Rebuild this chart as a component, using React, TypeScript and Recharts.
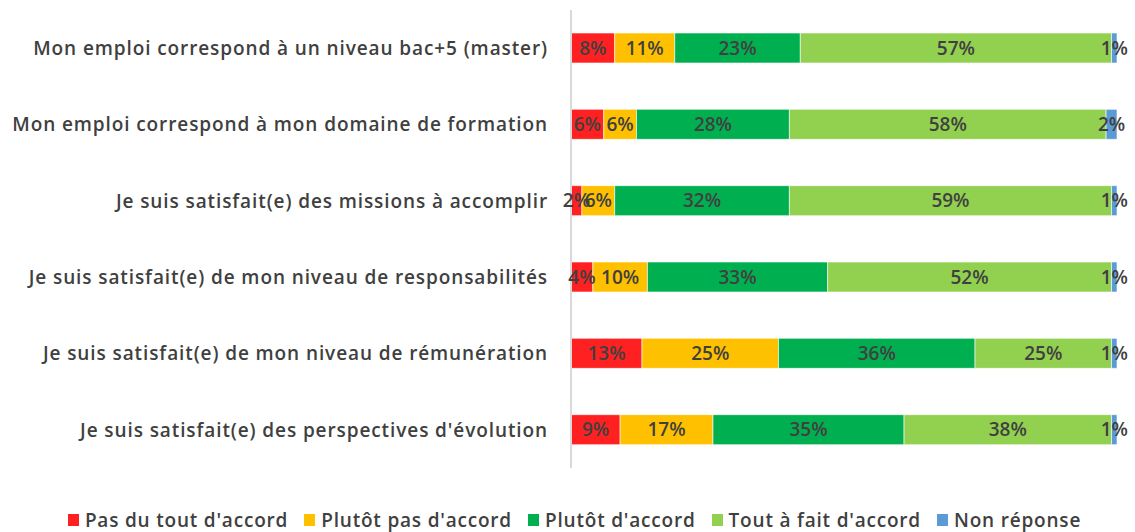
import React from "react";
import {
  BarChart,
  Bar,
  XAxis,
  YAxis,
  Legend,
  LabelList,
} from "recharts";

const questions = [
  "Mon emploi correspond à un niveau bac+5 (master)",
  "Mon emploi correspond à mon domaine de formation",
  "Je suis satisfait(e) des missions à accomplir",
  "Je suis satisfait(e) de mon niveau de responsabilités",
  "Je suis satisfait(e) de mon niveau de rémunération",
  "Je suis satisfait(e) des perspectives d'évolution",
];

const pasDuTout = [8, 6, 2, 4, 13, 9];
const plutotPas = [11, 6, 6, 10, 25, 17];
const plutot = [23, 28, 32, 33, 36, 35];
const toutAFait = [57, 58, 59, 52, 25, 38];
const nonReponse = [1, 2, 1, 1, 1, 1];

const series = [
  { key: "pasDuTout", name: "Pas du tout d'accord", color: "#FF2121" },
  { key: "plutotPas", name: "Plutôt pas d'accord", color: "#FFC000" },
  { key: "plutot", name: "Plutôt d'accord", color: "#00B050" },
  { key: "toutAFait", name: "Tout à fait d'accord", color: "#92D050" },
  { key: "nonReponse", name: "Non réponse", color: "#5B9BD5" },
];

const data = questions.map((q, i) => ({
  name: q,
  pasDuTout: pasDuTout[i],
  plutotPas: plutotPas[i],
  plutot: plutot[i],
  toutAFait: toutAFait[i],
  nonReponse: nonReponse[i],
}));

const FONT = "'Open Sans', sans-serif";

function LegendBox() {
  return (
    <div
      style={{
        display: "flex",
        justifyContent: "center",
        height: 64,
        paddingTop: 40,
        paddingLeft: 48,
        boxSizing: "border-box",
        fontFamily: FONT,
        fontWeight: 600,
        fontSize: 19,
        letterSpacing: 0.8,
        color: "#404040",
        lineHeight: "22px",
      }}
    >
      {series.map((s) => (
        <div key={s.key} style={{ display: "flex", alignItems: "center", marginRight: 16 }}>
          <span
            style={{
              display: "inline-block",
              width: 11,
              height: 12,
              background: s.color,
              marginRight: 6,
            }}
          />
          <span>{s.name}</span>
        </div>
      ))}
    </div>
  );
}

export default function App() {
  return (
    <div style={{ position: "absolute", left: 0, top: 0, background: "#fff" }}>
      <BarChart
        width={1135}
        height={532}
        data={data}
        layout="vertical"
        margin={{ top: 10, right: 18, bottom: 0, left: 0 }}
      >
        <XAxis type="number" domain={[0, 100]} hide />
        <YAxis
          type="category"
          dataKey="name"
          width={571}
          tickLine={false}
          tickSize={0}
          tickMargin={23}
          axisLine={{ stroke: "#d9d9d9", strokeWidth: 2 }}
          tick={{
            fill: "#404040",
            fontSize: 19,
            fontFamily: FONT,
            fontWeight: 600,
            letterSpacing: 0.9,
          }}
          interval={0}
        />
        <Legend verticalAlign="bottom" content={() => <LegendBox />} />
        {series.map((s) => (
          <Bar
            key={s.key}
            dataKey={s.key}
            name={s.name}
            stackId="a"
            fill={s.color}
            stroke="#ffffff"
            strokeWidth={0.6}
            barSize={30}
            isAnimationActive={false}
          >
            <LabelList
              dataKey={s.key}
              position="center"
              formatter={(v: any) => `${v}%`}
              style={{ fill: "#404040", fontSize: 19, fontFamily: FONT, fontWeight: 600 }}
            />
          </Bar>
        ))}
      </BarChart>
    </div>
  );
}
